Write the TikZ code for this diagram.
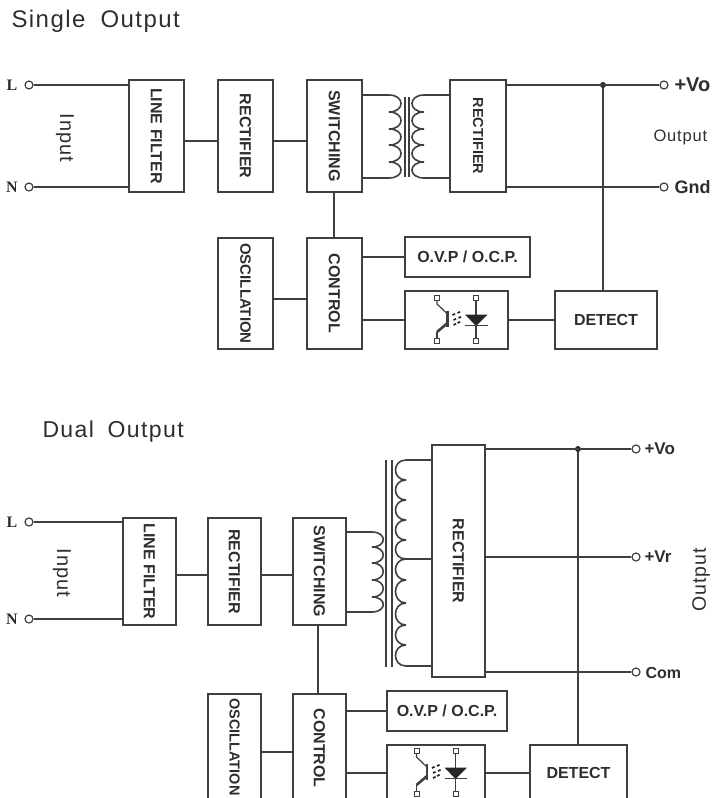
\documentclass[tikz,border=0pt]{standalone}
\usepackage{fontspec}
\setmainfont{Liberation Sans}
\newfontfamily\titlefont[LetterSpace=6]{Liberation Sans}
\newfontfamily\sidefont[LetterSpace=5]{Liberation Sans}
\newfontfamily\termfont{Liberation Serif}
\usetikzlibrary{calc,positioning}
\definecolor{linec}{HTML}{3F3F3F}
\definecolor{textc}{HTML}{2E2E2E}
\tikzset{
  wire/.style = {draw = linec, line width = 1.6pt},
  blockbox/.style = {draw = linec, line width = 1.6pt, inner sep = 0pt, text = textc, font = \bfseries\fontsize{16}{16}\selectfont},
  term/.style = {circle, draw = linec, line width = 1.2pt, inner sep = 0pt, minimum size = 8pt, fill = white},
  jdot/.style = {circle, fill = black!85, inner sep = 0pt, minimum size = 6pt},
  tlabel/.style = {text = textc, font = \termfont\bfseries\fontsize{16}{16}\selectfont},
  outlabel/.style = {text = textc, anchor = west, font = \bfseries},
  side/.style = {text = textc, font = \sidefont\fontsize{20}{20}\selectfont},
  title/.style = {text = textc, anchor = west, font = \titlefont\fontsize{24}{24}\selectfont},
  pad/.style = {draw = linec, line width = 1pt, fill = white, inner sep = 0pt, minimum size = 5pt},
  pics/opto/.style = {code = {
    \node[pad] (pa) at (-19.5,-22) {};
    \node[pad] (pb) at (-19.5,21) {};
    \node[pad] (pc) at (19.5,-22) {};
    \node[pad] (pd) at (19.5,21) {};
    \draw[wire, line width = 1.2pt] (pa) -- (-19.5,-16) -- (-9,-6);
    \draw[wire, line width = 2.2pt] (-9,-9.5) -- (-9,7);
    \draw[wire, line width = 1.2pt] (pb) -- (-19.5,12);
    \draw[wire, line width = 2.6pt] (-19.5,12) -- (-9,3);
    \draw[wire, line width = 1.2pt] (pc) -- (pd);
    \fill[black!85] (8.5,-5.5) -- (31,-5.5) -- (19.5,6) -- cycle;
    \draw[wire, line width = 1.6pt] (8.5,5.5) -- (31,5.5);
    \foreach \dx/\dy in {-4/-5, 1/-7, -3/0, 2/-2, -3/5, 1/3}
      \draw[black!85, line width = 1.7pt] (\dx,\dy) -- ++(2.6,-1.2);
  }}
}
% cusp x, control x, pairs of y
\newcommand{\coil}[3]{%
  \foreach \ya/\yb in {#3}
    \draw[wire] (#1,\ya) .. controls (#2,\ya) and (#2,\yb) .. (#1,\yb);
}
\newcommand{\vlabel}[1]{\rotatebox{270}{#1}}
\begin{document}
\begin{tikzpicture}[x = 1pt, y = -1pt]
\useasboundingbox (0,0) rectangle (714,798);
\clip (0,0) rectangle (714,798);

% single output
\node[title] (single) at (8,21) {Single\hspace{7pt} Output};

\node[term] (l1) at (29,85) {};
\node[term] (n1) at (29,187) {};
\node[tlabel] (ll1) at (12,85) {L};
\node[tlabel] (nl1) at (12,187) {N};
\node[side] (in1) at (65,138) {\vlabel{Input}};

\node[blockbox, minimum width = 55pt, minimum height = 112pt] (filter1) at (156.5,136) {\vlabel{LINE FILTER}};
\node[blockbox, minimum width = 55pt, minimum height = 112pt] (rect1) at (245.5,136) {\vlabel{RECTIFIER}};
\node[blockbox, minimum width = 55pt, minimum height = 112pt] (sw1) at (334.5,136) {\vlabel{SWITCHING}};
\node[blockbox, minimum width = 56pt, minimum height = 112pt, font = \bfseries\fontsize{14.5}{14.5}\selectfont] (out1) at (478,136) {\vlabel{RECTIFIER}};
\node[blockbox, minimum width = 55pt, minimum height = 111pt, font = \bfseries\fontsize{15}{15}\selectfont] (osc1) at (245.5,293.5) {\vlabel{OSCILLATION}};
\node[blockbox, minimum width = 55pt, minimum height = 111pt] (ctl1) at (334.5,293.5) {\vlabel{CONTROL}};
\node[blockbox, minimum width = 125pt, minimum height = 40pt] (ovp1) at (467.5,257) {O.V.P / O.C.P.};
\node[blockbox, minimum width = 103pt, minimum height = 58pt] (opto1) at (456.5,320) {};
\node[blockbox, minimum width = 102pt, minimum height = 58pt] (det1) at (606,320) {DETECT};
\pic at (456.5,320) {opto};

\node[term] (vo1) at (664,85) {};
\node[term] (gnd1) at (664,187) {};
\node[outlabel] (vol1) at (671,85) {\fontsize{20}{20}\selectfont +Vo};
\node[outlabel] (gndl1) at (671,187) {\fontsize{18}{18}\selectfont Gnd};
\node[side, anchor = west, font = \sidefont\fontsize{16.5}{16.5}\selectfont] (outl1) at (650,137) {Output};
\node[jdot] (j1) at (603,85) {};
\coordinate (mid1) at (0,141);
\coordinate (osy1) at (0,299);

\draw[wire] (l1) -- (l1 -| filter1.west);
\draw[wire] (n1) -- (n1 -| filter1.west);
\draw[wire] (filter1.east |- mid1) -- (rect1.west |- mid1);
\draw[wire] (rect1.east |- mid1) -- (sw1.west |- mid1);
\draw[wire] ($(sw1.south)+(-.5,0)$) -- ($(ctl1.north)+(-.5,0)$);
\draw[wire] (osc1.east |- osy1) -- (ctl1.west |- osy1);
\draw[wire] (ctl1.east |- ovp1) -- (ovp1);
\draw[wire] (ctl1.east |- opto1) -- (opto1);
\draw[wire] (opto1) -- (det1);
\draw[wire] (out1.east |- vo1) -- (vo1);
\draw[wire] (out1.east |- gnd1) -- (gnd1);
\draw[wire] (j1) -- (j1 |- det1.north);

% transformer
\coordinate (pt1) at (389,95);
\coordinate (pb1) at (389,178);
\coordinate (st1) at (424,95);
\coordinate (sb1) at (424,178);
\draw[wire] (sw1.east |- pt1) -- (pt1);
\draw[wire] (sw1.east |- pb1) -- (pb1);
\draw[wire] (out1.west |- st1) -- (st1);
\draw[wire] (out1.west |- sb1) -- (sb1);
\coil{389}{405}{95/112, 112/129, 129/145, 145/162, 162/178}
\coil{424}{408}{95/112, 112/129, 129/145, 145/162, 162/178}
\draw[wire] (405,97) -- (405,177);
\draw[wire] (409,97) -- (409,177);

% dual output
\node[title, font = \titlefont\fontsize{23}{23}\selectfont] (dual) at (39,432) {Dual\hspace{6pt} Output};

\node[term] (l2) at (29,522) {};
\node[term] (n2) at (29,619) {};
\node[tlabel] (ll2) at (12,522) {L};
\node[tlabel] (nl2) at (12,619) {N};
\node[side] (in2) at (62,573) {\vlabel{Input}};

\node[blockbox, minimum width = 53pt, minimum height = 107pt] (filter2) at (149.5,571.5) {\vlabel{LINE FILTER}};
\node[blockbox, minimum width = 53pt, minimum height = 107pt] (rect2) at (234.5,571.5) {\vlabel{RECTIFIER}};
\node[blockbox, minimum width = 53pt, minimum height = 107pt] (sw2) at (319.5,571.5) {\vlabel{SWITCHING}};
\node[blockbox, minimum width = 53pt, minimum height = 232pt] (out2) at (458.5,561) {\vlabel{RECTIFIER}};
\node[blockbox, minimum width = 53pt, minimum height = 106pt, font = \bfseries\fontsize{14.5}{14.5}\selectfont] (osc2) at (234.5,747) {\vlabel{OSCILLATION}};
\node[blockbox, minimum width = 53pt, minimum height = 108pt] (ctl2) at (319.5,748) {\vlabel{CONTROL}};
\node[blockbox, minimum width = 120pt, minimum height = 40pt] (ovp2) at (447,711) {O.V.P / O.C.P.};
\node[blockbox, minimum width = 98pt, minimum height = 56pt] (opto2) at (436,773) {};
\node[blockbox, minimum width = 97pt, minimum height = 56pt] (det2) at (578.5,773) {DETECT};
\pic at (436,773) {opto};

\node[term] (vo2) at (636,449) {};
\node[term] (vr2) at (636,557) {};
\node[term] (com2) at (636,672) {};
\node[outlabel] (vol2) at (641,449) {\fontsize{17}{17}\selectfont +Vo};
\node[outlabel] (vrl2) at (641,557) {\fontsize{17}{17}\selectfont +Vr};
\node[outlabel] (coml2) at (642,673) {\fontsize{16}{16}\selectfont Com};
\node[side, font = \sidefont\fontsize{19.5}{19.5}\selectfont] (outl2) at (701,580) {\rotatebox{90}{Output}};
\node[jdot] (j2) at (578,449) {};
\coordinate (mid2) at (0,575);
\coordinate (osy2) at (0,752);

\draw[wire] (l2) -- (l2 -| filter2.west);
\draw[wire] (n2) -- (n2 -| filter2.west);
\draw[wire] (filter2.east |- mid2) -- (rect2.west |- mid2);
\draw[wire] (rect2.east |- mid2) -- (sw2.west |- mid2);
\draw[wire] ($(sw2.south)+(-1.5,0)$) -- ($(ctl2.north)+(-1.5,0)$);
\draw[wire] (osc2.east |- osy2) -- (ctl2.west |- osy2);
\draw[wire] (ctl2.east |- ovp2) -- (ovp2);
\draw[wire] (ctl2.east |- opto2) -- (opto2);
\draw[wire] (opto2) -- (det2);
\draw[wire] (out2.east |- vo2) -- (vo2);
\draw[wire] (out2.east |- vr2) -- (vr2);
\draw[wire] (out2.east |- com2) -- (com2);
\draw[wire] (j2) -- (j2 |- det2.north);

% transformer
\coordinate (pt2) at (372,532);
\coordinate (pb2) at (372,612);
\coordinate (st2) at (406,460);
\coordinate (sm2) at (406,559);
\coordinate (sb2) at (406,666);
\draw[wire] (sw2.east |- pt2) -- (pt2);
\draw[wire] (sw2.east |- pb2) -- (pb2);
\draw[wire] (out2.west |- st2) -- (st2);
\draw[wire] (out2.west |- sm2) -- (sm2);
\draw[wire] (out2.west |- sb2) -- (sb2);
\coil{372}{387}{532/547, 547/563, 563/580, 580/597, 597/612}
\coil{406}{392}{460/480, 480/500, 500/520, 520/540, 540/559, 559/580, 580/603, 603/625, 625/645, 645/666}
\draw[wire] (386,460) -- (386,667);
\draw[wire] (392,460) -- (392,667);
\end{tikzpicture}
\end{document}
